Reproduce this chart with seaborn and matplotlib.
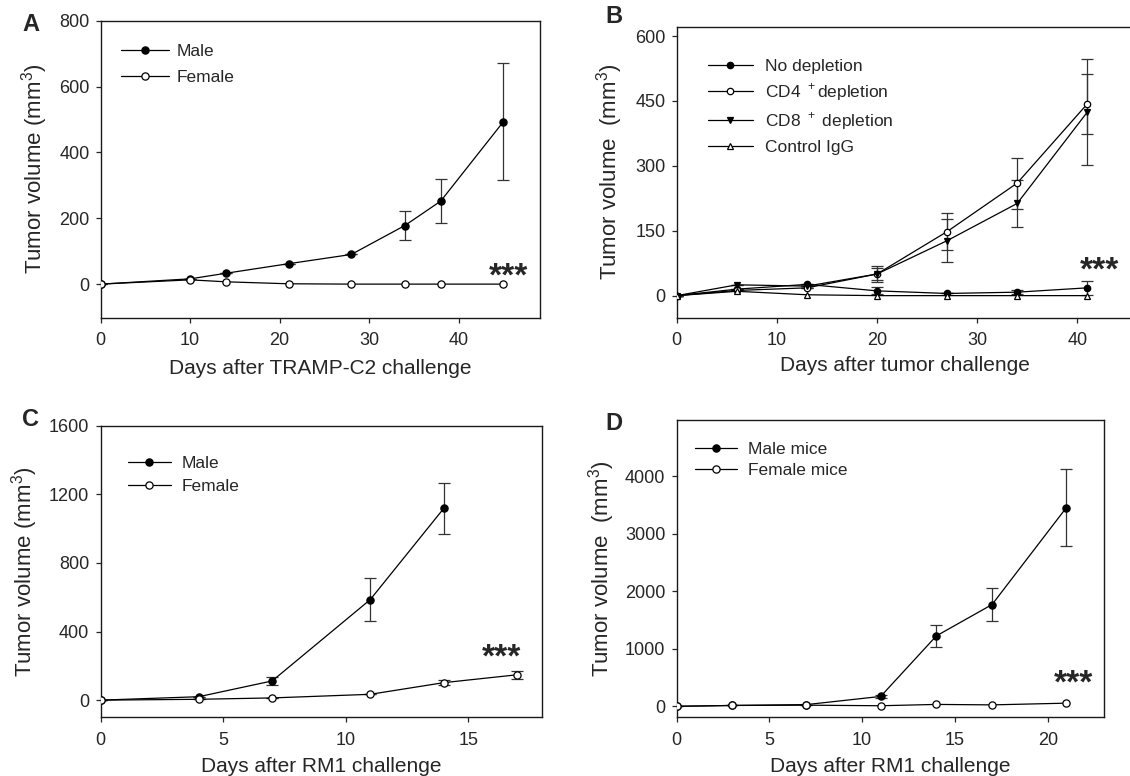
import numpy as np
import pandas as pd
import matplotlib
matplotlib.use("Agg")
import matplotlib.pyplot as plt
import seaborn as sns

# Panel A - TRAMP-C2
a_days = [0, 10, 14, 21, 28, 34, 38, 45]
a_male = [0, 16, 33, 62, 90, 178, 252, 493]
a_male_err = [0, 0, 0, 0, 0, 45, 66, 178]
a_female = [0, 13, 7, 1, 0, 0, 0, 0]

# Panel B - depletion
b_days = [0, 6, 13, 20, 27, 34, 41]
b_nodep = [0, 15, 26, 11, 5, 8, 18]
b_nodep_err = [0, 0, 0, 8, 0, 5, 16]
b_cd4 = [0, 12, 18, 50, 148, 260, 443]
b_cd4_err = [0, 0, 0, 15, 43, 59, 70]
b_cd8 = [0, 25, 22, 50, 127, 213, 424]
b_cd8_err = [0, 0, 0, 18, 50, 55, 122]
b_igg = [0, 10, 2, 0, 0, 0, 0]

# Panel C - RM1
c_days_m = [0, 4, 7, 11, 14]
c_male = [0, 20, 112, 586, 1118]
c_male_err = [0, 0, 22, 126, 147]
c_days_f = [0, 4, 7, 11, 14, 17]
c_female = [0, 5, 13, 34, 102, 148]
c_female_err = [0, 0, 0, 0, 14, 22]

# Panel D - RM1 mice
d_days = [0, 3, 7, 11, 14, 17, 21]
d_male = [0, 15, 30, 172, 1225, 1770, 3455]
d_male_err = [0, 0, 0, 30, 190, 281, 664]
d_female = [0, 15, 20, 10, 33, 25, 55]

sns.set_style("ticks")
plt.rcParams['font.family'] = ['Liberation Sans', 'DejaVu Sans']
plt.rcParams['axes.linewidth'] = 1.0
plt.rcParams['axes.edgecolor'] = '#1a1a1a'
plt.rcParams['mathtext.fontset'] = 'custom'
plt.rcParams['mathtext.rm'] = 'Liberation Sans'

W, H = 1130, 776
fig = plt.figure(figsize=(11.3, 7.76), dpi=100)


def box(l, r, t, b):
    return [l / W, 1 - b / H, (r - l) / W, (b - t) / H]


axA = fig.add_axes(box(100.7, 540, 20.7, 317.7))
axB = fig.add_axes(box(676.8, 1133, 26.7, 317.7))
axC = fig.add_axes(box(100.6, 541.8, 425.7, 717.3))
axD = fig.add_axes(box(676.5, 1104, 419.7, 717.3))


def series(ax, x, y, marker, face, label, err=None, ms=5.2):
    df = pd.DataFrame({"day": x, "vol": y})
    sns.lineplot(data=df, x="day", y="vol", ax=ax, color="black", lw=0.9,
                 marker=marker, markersize=ms, markerfacecolor=face,
                 markeredgecolor="black", markeredgewidth=0.9, label=label,
                 zorder=3)
    if err is not None:
        ax.errorbar(x, y, yerr=err, fmt="none", ecolor="#333333",
                    elinewidth=0.9, capsize=4, capthick=0.9, zorder=2)


series(axA, a_days, a_male, "o", "black", "Male", a_male_err)
series(axA, a_days, a_female, "o", "white", "Female")

series(axB, b_days, b_nodep, "o", "black", "No depletion", b_nodep_err, ms=4.6)
series(axB, b_days, b_cd4, "o", "white", "CD4 $^+$depletion", b_cd4_err, ms=4.6)
series(axB, b_days, b_cd8, "v", "black", "CD8 $^+$ depletion", b_cd8_err, ms=4.6)
series(axB, b_days, b_igg, "^", "white", "Control IgG", ms=4.6)

series(axC, c_days_m, c_male, "o", "black", "Male", c_male_err)
series(axC, c_days_f, c_female, "o", "white", "Female", c_female_err)

series(axD, d_days, d_male, "o", "black", "Male mice", d_male_err)
series(axD, d_days, d_female, "o", "white", "Female mice")

# ax, xlim, ylim, xticks, yticks, xlabel, ylabel, star pos, xlabel y, ylabel x
settings = [
    (axA, (0, 49.1), (-102, 800), [0, 10, 20, 30, 40], [0, 200, 400, 600, 800],
     "Days after TRAMP-C2 challenge", "Tumor volume (mm$^3$)", (45.6, -5),
     -0.140, -0.1154),
    (axB, (0, 45.57), (-51, 621.5), [0, 10, 20, 30, 40], [0, 150, 300, 450, 600],
     "Days after tumor challenge", "Tumor volume  (mm$^3$)", (42.2, 36),
     -0.133, -0.1135),
    (axC, (0, 18), (-100, 1600), [0, 5, 10, 15], [0, 400, 800, 1200, 1600],
     "Days after RM1 challenge", "Tumor volume (mm$^3$)", (16.34, 194),
     -0.137, -0.1367),
    (axD, (0, 23.03), (-191, 4985), [0, 5, 10, 15, 20], [0, 1000, 2000, 3000, 4000],
     "Days after RM1 challenge", "Tumor volume  (mm$^3$)", (21.4, 237),
     -0.134, -0.139),
]

for ax, xl, yl, xt, yt, xlab, ylab, star, xly, ylx in settings:
    ax.set_xlim(xl)
    ax.set_ylim(yl)
    ax.set_xticks(xt)
    ax.set_yticks(yt)
    ax.set_xlabel(xlab, fontsize=15)
    ax.set_ylabel(ylab, fontsize=16)
    ax.xaxis.set_label_coords(0.5, xly)
    ax.yaxis.set_label_coords(ylx, 0.5)
    ax.tick_params(labelsize=13, length=3.6, width=0.9, direction="out", pad=4.5)
    ax.tick_params(axis="x", pad=7)
    for s in ax.spines.values():
        s.set_visible(True)
    ax.text(star[0], star[1], "***", fontsize=24, fontweight="bold",
            ha="center", va="baseline")

leg_kw = dict(loc="upper left", frameon=False, borderaxespad=0, borderpad=0,
              fontsize=12.5)
axA.legend(bbox_to_anchor=(0.0462, 0.9232), handlelength=2.75,
           handletextpad=0.48, labelspacing=0.65, **leg_kw)
axB.legend(bbox_to_anchor=(0.0673, 0.889), handlelength=2.6,
           handletextpad=0.72, labelspacing=0.42, **leg_kw)
axC.legend(bbox_to_anchor=(0.0621, 0.896), handlelength=2.47,
           handletextpad=0.63, labelspacing=0.43, **leg_kw)
axD.legend(bbox_to_anchor=(0.0433, 0.926), handlelength=2.43,
           handletextpad=0.63, labelspacing=0.37, **leg_kw)

for lab, x, y in [("A", 30.5, 24.5), ("B", 613.7, 16.5), ("C", 30.5, 419.7),
                  ("D", 614, 424)]:
    fig.text(x / W, 1 - y / H, lab, fontsize=17, fontweight="bold",
             ha="center", va="center")

fig.savefig("out.png", dpi=100)
